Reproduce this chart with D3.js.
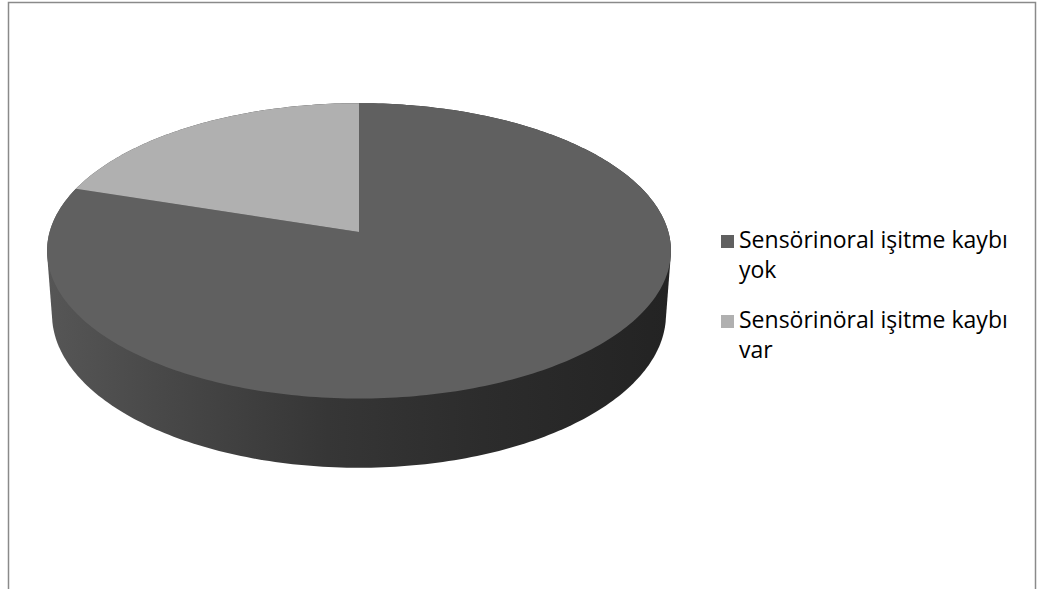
<!DOCTYPE html>
<html>
<head>
<meta charset="utf-8">
<script src="https://cdn.jsdelivr.net/npm/d3@7"></script>
<style>
  html, body { margin: 0; padding: 0; background: #ffffff; }
  svg { display: block; }
</style>
</head>
<body>
<svg id="chart" width="1040" height="589"></svg>
<script>
// Series
const categories = ["Sensörinoral işitme kaybı yok", "Sensörinöral işitme kaybı var"];
const values = [80, 20];
const legendLines = [["Sensörinoral işitme kaybı", "yok"], ["Sensörinöral işitme kaybı", "var"]];
const colors = ["#606060", "#b0b0b0"];

const svg = d3.select("#chart");

// Chart frame
svg.append("rect")
  .attr("x", 8.5).attr("y", 2.5)
  .attr("width", 1027).attr("height", 620)
  .attr("fill", "#ffffff")
  .attr("stroke", "#8a8a8a")
  .attr("stroke-width", 1.5);

// 3D pie: disc of unit radius viewed in perspective from above
const cx = 359, cy = 232;          // screen position of the top-face centre
const phi = 28 * Math.PI / 180;     // camera elevation
const D = 6.92;                     // camera distance (in radii)
const f = 2141;                     // focal scale (px)
const thick = 0.235;                // disc thickness (in radii)

function project(a, y, r = 1) {
  const X = r * Math.sin(a), Z = -r * Math.cos(a), Y = y;
  const depth = D - Y * Math.sin(phi) - Z * Math.cos(phi);
  const yc = Y * Math.cos(phi) - Z * Math.sin(phi);
  return [cx + f * X / depth, cy - f * yc / depth];
}

const pie = d3.pie().sort(null).value(d => d)(values);

// Side wall: hull of top and bottom rims
const N = 360;
const rimPts = [];
for (let i = 0; i < N; i++) {
  const a = i / N * 2 * Math.PI;
  rimPts.push(project(a, 0));
  rimPts.push(project(a, -thick));
}
const hull = d3.polygonHull(rimPts);

const xs = rimPts.map(p => p[0]);
const defs = svg.append("defs");
const grad = defs.append("linearGradient")
  .attr("id", "wallShade")
  .attr("gradientUnits", "userSpaceOnUse")
  .attr("x1", d3.min(xs)).attr("x2", d3.max(xs))
  .attr("y1", 0).attr("y2", 0);
[[0, "#565656"], [0.2, "#474747"], [0.45, "#363636"], [0.7, "#2c2c2c"], [1, "#232323"]]
  .forEach(([o, c]) => grad.append("stop").attr("offset", o).attr("stop-color", c));

svg.append("path")
  .attr("d", "M" + hull.map(p => p.join(",")).join("L") + "Z")
  .attr("fill", "url(#wallShade)");

// Top faces of the slices
const line = d3.line();
svg.selectAll("path.slice")
  .data(pie)
  .join("path")
  .attr("class", "slice")
  .attr("d", d => {
    const pts = [project(0, 0, 0)];
    const steps = Math.max(2, Math.ceil((d.endAngle - d.startAngle) / (Math.PI / 180)));
    for (let i = 0; i <= steps; i++) {
      const a = d.startAngle + (d.endAngle - d.startAngle) * i / steps;
      pts.push(project(a, 0));
    }
    return line(pts) + "Z";
  })
  .attr("fill", (d, i) => colors[i]);

// Legend
const legend = svg.append("g").attr("class", "legend");
const items = legend.selectAll("g")
  .data(categories)
  .join("g")
  .attr("transform", (d, i) => `translate(721, ${235 + i * 80})`);

items.append("rect")
  .attr("width", 13).attr("height", 13)
  .attr("fill", (d, i) => colors[i]);

items.append("text")
  .attr("x", 18)
  .attr("y", 13)
  .attr("font-family", "'Open Sans', 'DejaVu Sans', sans-serif")
  .attr("font-size", 23)
  .attr("fill", "#000000")
  .selectAll("tspan")
  .data((d, i) => legendLines[i])
  .join("tspan")
  .attr("x", 18)
  .attr("dy", (d, j) => j === 0 ? 0 : 30)
  .text(d => d);
</script>
</body>
</html>
